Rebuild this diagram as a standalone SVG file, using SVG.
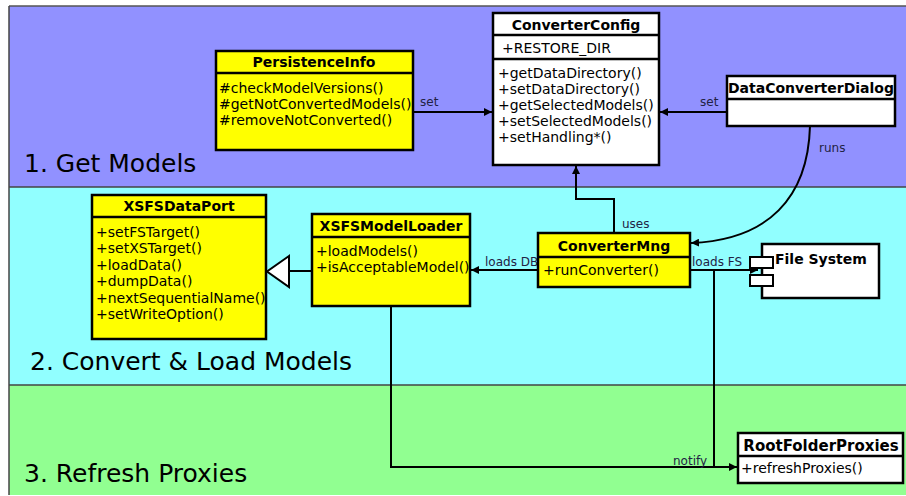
<svg xmlns="http://www.w3.org/2000/svg" width="906" height="496" viewBox="0 0 906 496">
<defs>
<style>
.box{stroke:#000;stroke-width:2.5}
.y{fill:#ffff00}
.w{fill:#ffffff}
.t{font-family:"DejaVu Sans",sans-serif;font-size:14px;font-weight:bold;fill:#000;text-anchor:middle}
.m{font-family:"DejaVu Sans",sans-serif;font-size:14px;fill:#000}
.lbl{font-family:"DejaVu Sans",sans-serif;font-size:12px;fill:#222244}
.band{font-family:"DejaVu Sans",sans-serif;font-size:25px;fill:#000}
.c{fill:none;stroke:#000;stroke-width:2}
</style>
<marker id="arr" viewBox="0 0 10 10" refX="10" refY="5" markerWidth="8" markerHeight="8" markerUnits="userSpaceOnUse" orient="auto">
<path d="M0,0 L10,5 L0,10 z" fill="#000"/>
</marker>
</defs>
<rect width="906" height="496" fill="#ffffff"/>
<g id="bands">
<rect x="9" y="6" width="897" height="181" fill="#9191ff"/>
<rect x="9" y="187" width="897" height="198" fill="#91ffff"/>
<rect x="9" y="385" width="897" height="110" fill="#91ff91"/>
<line x1="9" y1="6" x2="906" y2="6" stroke="#555" stroke-width="1.5"/>
<line x1="9" y1="187" x2="906" y2="187" stroke="#444" stroke-width="1.5"/>
<line x1="9" y1="385" x2="906" y2="385" stroke="#444" stroke-width="1.5"/>
<line x1="9" y1="6" x2="9" y2="495" stroke="#444" stroke-width="1.5"/>
<text class="band" x="24" y="172">1. Get Models</text>
<text class="band" x="30" y="370">2. Convert &amp; Load Models</text>
<text class="band" x="24" y="482">3. Refresh Proxies</text>
</g>
<g id="connectors">
<path class="c" d="M413,112 H492" marker-end="url(#arr)"/>
<text class="lbl" x="420" y="106">set</text>
<path class="c" d="M727,112 H660" marker-end="url(#arr)"/>
<text class="lbl" x="700" y="106">set</text>
<path class="c" d="M810,126 C808,198 768,240 691,243" marker-end="url(#arr)"/>
<text class="lbl" x="819" y="152">runs</text>
<path class="c" d="M614,233 V199 H576 V166" marker-end="url(#arr)"/>
<text class="lbl" x="622" y="228">uses</text>
<text class="lbl" x="485" y="266">loads DB</text>
<path class="c" d="M538,270 H471" marker-end="url(#arr)"/>
<text class="lbl" x="692" y="266">loads FS</text>
<path class="c" d="M690,270 H758" marker-end="url(#arr)"/>
<path class="c" d="M312,271 H289"/>
<path d="M289,256 L267,271.5 L289,287 z" fill="#fff" stroke="#000" stroke-width="2"/>
<path class="c" d="M391,306 V467 H737" marker-end="url(#arr)"/>
<path class="c" d="M714,270 V467"/>
<text class="lbl" x="673" y="465">notify</text>
</g>
<g id="PersistenceInfo">
<rect class="box y" x="216" y="51" width="197" height="99"/>
<line class="box" x1="216" y1="73" x2="413" y2="73"/>
<text class="t" x="314" y="67">PersistenceInfo</text>
<text class="m" x="219" y="93">#checkModelVersions()</text>
<text class="m" x="219" y="109">#getNotConvertedModels()</text>
<text class="m" x="219" y="125">#removeNotConverted()</text>
</g>
<g id="ConverterConfig">
<rect class="box w" x="493" y="13" width="166" height="152"/>
<line class="box" x1="493" y1="35" x2="659" y2="35"/>
<line class="box" x1="493" y1="59" x2="659" y2="59"/>
<text class="t" x="576" y="30">ConverterConfig</text>
<text class="m" x="502" y="53">+RESTORE_DIR</text>
<text class="m" x="498" y="78">+getDataDirectory()</text>
<text class="m" x="498" y="94">+setDataDirectory()</text>
<text class="m" x="498" y="110">+getSelectedModels()</text>
<text class="m" x="498" y="126">+setSelectedModels()</text>
<text class="m" x="498" y="142">+setHandling*()</text>
</g>
<g id="DataConverterDialog">
<rect class="box w" x="727" y="76" width="168" height="50"/>
<line class="box" x1="727" y1="99" x2="895" y2="99"/>
<text class="t" x="811" y="93">DataConverterDialog</text>
</g>
<g id="XSFSDataPort">
<rect class="box y" x="92" y="195" width="174" height="144"/>
<line class="box" x1="92" y1="217" x2="266" y2="217"/>
<text class="t" x="179" y="211">XSFSDataPort</text>
<text class="m" x="96" y="237">+setFSTarget()</text>
<text class="m" x="96" y="253">+setXSTarget()</text>
<text class="m" x="96" y="270">+loadData()</text>
<text class="m" x="96" y="286">+dumpData()</text>
<text class="m" x="96" y="303">+nextSequentialName()</text>
<text class="m" x="96" y="319">+setWriteOption()</text>
</g>
<g id="XSFSModelLoader">
<rect class="box y" x="312" y="214" width="158" height="92"/>
<line class="box" x1="312" y1="237" x2="470" y2="237"/>
<text class="t" x="391" y="231">XSFSModelLoader</text>
<text class="m" x="316" y="256">+loadModels()</text>
<text class="m" x="316" y="272">+isAcceptableModel()</text>
</g>
<g id="ConverterMng">
<rect class="box y" x="538" y="233" width="152" height="54"/>
<line class="box" x1="538" y1="257" x2="690" y2="257"/>
<text class="t" x="614" y="251">ConverterMng</text>
<text class="m" x="543" y="275">+runConverter()</text>
</g>
<g id="FileSystem">
<rect class="box w" x="762" y="244" width="117" height="54"/>
<rect x="750" y="257" width="23" height="11" fill="#fff" stroke="#000" stroke-width="2"/>
<rect x="750" y="275" width="23" height="11" fill="#fff" stroke="#000" stroke-width="2"/>
<text class="t" x="775" y="264" style="text-anchor:start">File System</text>
</g>
<g id="RootFolderProxies">
<rect class="box w" x="738" y="433" width="165" height="50"/>
<line class="box" x1="738" y1="456" x2="903" y2="456"/>
<text class="t" x="821" y="451" style="font-size:15px">RootFolderProxies</text>
<text class="m" x="741" y="473">+refreshProxies()</text>
</g>
</svg>
